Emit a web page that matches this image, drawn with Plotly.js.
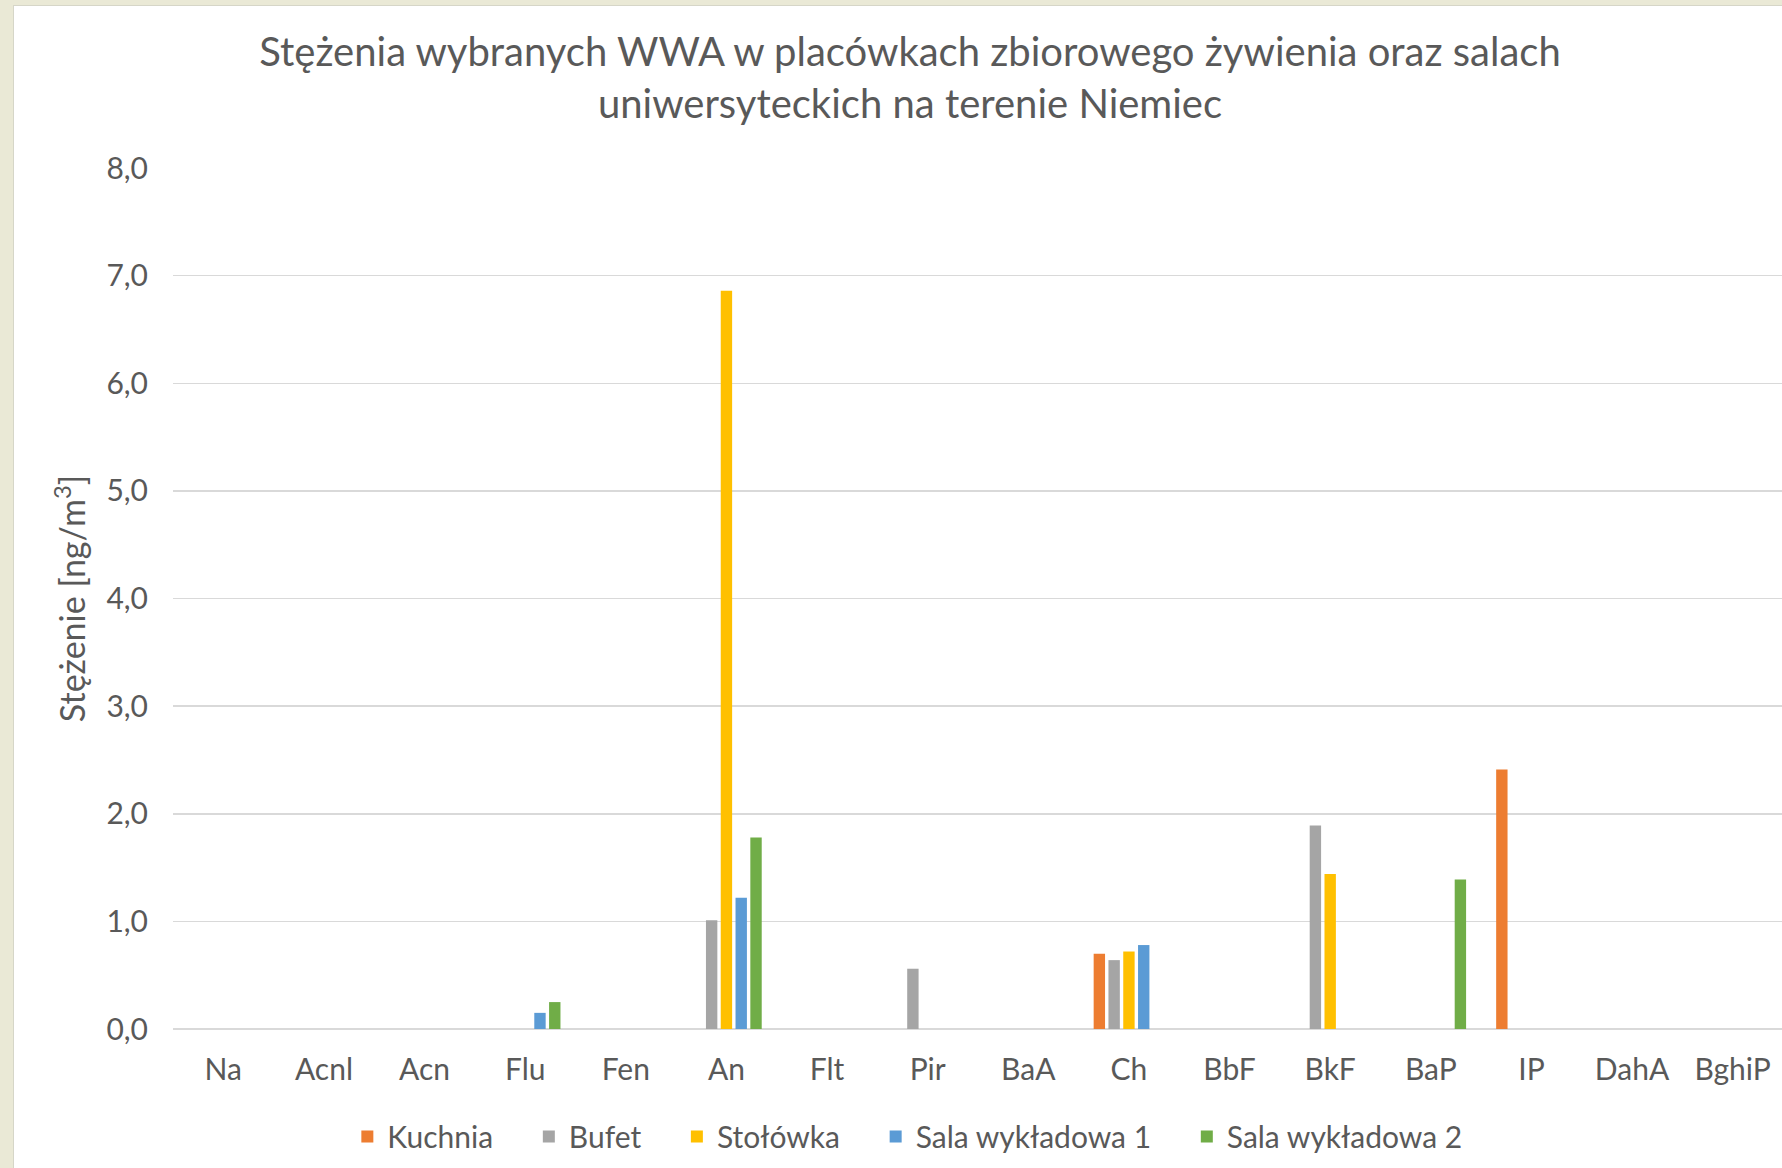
<!DOCTYPE html>
<html>
<head>
<meta charset="utf-8">
<script src="https://cdn.plot.ly/plotly-3.0.1.min.js"></script>
<style>
  html, body { margin: 0; padding: 0; background: #EAE9D6; overflow: hidden; width: 1782px; height: 1168px; }
  #chart { position: absolute; left: 13px; top: 5px; width: 1769px; height: 1163px; background: #fff;
           border-left: 1px solid #D6D6C8; border-top: 1px solid #D6D6C8; box-sizing: border-box; }
</style>
</head>
<body>
<div id="chart"></div>
<script>
const categories = ['Na','Acnl','Acn','Flu','Fen','An','Flt','Pir','BaA','Ch','BbF','BkF','BaP','IP','DahA','BghiP'];
const kuchnia  = [null,null,null,null,null,null,null,null,null,0.70,null,null,null,2.41,null,null];
const bufet    = [null,null,null,null,null,1.01,null,0.56,null,0.64,null,1.89,null,null,null,null];
const stolowka = [null,null,null,null,null,6.86,null,null,null,0.72,null,1.44,null,null,null,null];
const sala1    = [null,null,null,0.15,null,1.22,null,null,null,0.78,null,null,null,null,null,null];
const sala2    = [null,null,null,0.25,null,1.78,null,null,null,null,null,null,1.39,null,null,null];
const seriesNames = ['Kuchnia','Bufet','Stołówka','Sala wykładowa 1','Sala wykładowa 2'];
const seriesColors = ['#ED7D31','#A5A5A5','#FFC000','#5B9BD5','#70AD47'];
const seriesValues = [kuchnia, bufet, stolowka, sala1, sala2];

const FONT = 'Lato, "Open Sans", sans-serif';
const TXT = '#595959';
const PAD = '\u00a0\u00a0\u00a0\u00a0';

const traces = seriesValues.map((vals, i) => ({
  type: 'bar',
  name: i < seriesNames.length - 1 ? seriesNames[i] + PAD : seriesNames[i],
  x: categories,
  y: vals,
  marker: { color: seriesColors[i], line: { width: 0 } },
  hoverinfo: 'x+y+name'
}));

const layout = {
  width: 1769,
  height: 1163,
  paper_bgcolor: 'rgba(0,0,0,0)',
  plot_bgcolor: '#ffffff',
  separators: ', ',
  barmode: 'group',
  bargap: 0.265,
  bargroupgap: 0.23,
  margin: { l: 159, r: 0, t: 162, b: 140 },
  font: { family: FONT, color: TXT, size: 30 },
  title: {
    text: 'Stężenia wybranych WWA w placówkach zbiorowego żywienia oraz salach<br>uniwersyteckich na terenie Niemiec',
    font: { family: FONT, size: 40, color: TXT },
    xref: 'container', yref: 'container',
    x: 0.5065, xanchor: 'center',
    y: 0.948, yanchor: 'middle'
  },
  xaxis: {
    type: 'category',
    showgrid: false,
    showline: false,
    zeroline: false,
    ticks: '',
    ticklabelstandoff: 20,
    tickfont: { family: FONT, size: 30, color: TXT },
    fixedrange: true
  },
  yaxis: {
    range: [0, 8],
    dtick: 1,
    tick0: 0,
    tickformat: '.1f',
    showgrid: true,
    gridcolor: '#D9D9D9',
    gridwidth: 1.5,
    zeroline: true,
    zerolinecolor: '#D9D9D9',
    zerolinewidth: 1.5,
    showline: false,
    ticks: '',
    ticklabelstandoff: 24,
    tickfont: { family: FONT, size: 30, color: TXT },
    title: {
      text: 'Stężenie [ng/m<sup>3</sup>]',
      font: { family: FONT, size: 34, color: TXT },
      standoff: 10
    },
    fixedrange: true
  },
  showlegend: true,
  legend: {
    orientation: 'h',
    xref: 'container', yref: 'container',
    x: 0.505, xanchor: 'center',
    y: 0.028, yanchor: 'middle',
    font: { family: FONT, size: 30, color: TXT },
    itemwidth: 30,
    tracegroupgap: 0,
    traceorder: 'normal',
    bgcolor: 'rgba(0,0,0,0)'
  }
};

Plotly.newPlot('chart', traces, layout, { displayModeBar: false, staticPlot: true });
</script>
</body>
</html>
